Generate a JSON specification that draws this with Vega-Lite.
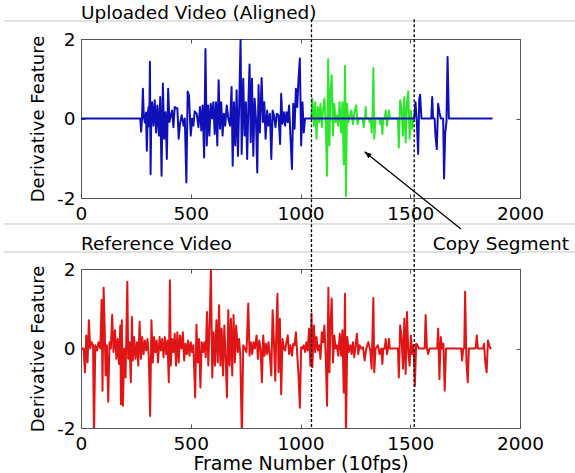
{
"$schema": "https://vega.github.io/schema/vega-lite/v6.json",
"padding": {"left": 2, "top": 3, "right": 0, "bottom": 0},
"background": "white",
"spacing": 71,
"bounds": "flush",
"datasets": {
"uploaded": [{"f":0,"v":0},{"f":270,"v":0},{"f":274,"v":-0.33},{"f":278,"v":0},{"f":282,"v":0.75},{"f":286,"v":0.05},{"f":291,"v":-0.1},{"f":296,"v":0.15},{"f":300,"v":-0.81},{"f":304,"v":0.1},{"f":308,"v":0.29},{"f":311,"v":-0.2},{"f":314,"v":1.43},{"f":317,"v":-1.4},{"f":320,"v":-0.1},{"f":324,"v":0.41},{"f":330,"v":-0.18},{"f":336,"v":0.46},{"f":342,"v":-0.35},{"f":348,"v":0.33},{"f":355,"v":-0.43},{"f":361,"v":0.54},{"f":367,"v":-1.44},{"f":373,"v":0.88},{"f":379,"v":-0.51},{"f":385,"v":0.16},{"f":391,"v":-1.02},{"f":397,"v":0.75},{"f":403,"v":-0.09},{"f":409,"v":0.08},{"f":415,"v":0.2},{"f":421,"v":-0.22},{"f":427,"v":0.29},{"f":433,"v":0.26},{"f":439,"v":0.26},{"f":445,"v":-0.51},{"f":451,"v":-0.13},{"f":459,"v":0.08},{"f":467,"v":-0.18},{"f":473,"v":0},{"f":480,"v":-1.61},{"f":486,"v":0.68},{"f":492,"v":0.58},{"f":500,"v":-0.43},{"f":506,"v":0},{"f":512,"v":-0.18},{"f":518,"v":0.18},{"f":527,"v":0.12},{"f":535,"v":-0.22},{"f":542,"v":0.29},{"f":548,"v":-0.3},{"f":554,"v":0.33},{"f":561,"v":-0.98},{"f":567,"v":1.75},{"f":573,"v":-0.68},{"f":579,"v":0.33},{"f":585,"v":-0.43},{"f":591,"v":0.37},{"f":597,"v":0},{"f":603,"v":0.41},{"f":609,"v":-0.39},{"f":615,"v":0.41},{"f":621,"v":-0.68},{"f":627,"v":0.96},{"f":633,"v":-0.26},{"f":639,"v":0.41},{"f":645,"v":-0.43},{"f":651,"v":0.12},{"f":657,"v":-0.18},{"f":664,"v":0.33},{"f":671,"v":0},{"f":679,"v":-0.18},{"f":686,"v":0.79},{"f":691,"v":-1.19},{"f":697,"v":0.41},{"f":703,"v":-0.68},{"f":709,"v":0.71},{"f":715,"v":-0.94},{"f":721,"v":0.41},{"f":727,"v":2.0},{"f":732,"v":-0.89},{"f":739,"v":1.0},{"f":745,"v":-0.43},{"f":751,"v":0.41},{"f":757,"v":-1.02},{"f":764,"v":0.67},{"f":768,"v":1.36},{"f":773,"v":-0.6},{"f":779,"v":1.0},{"f":785,"v":-0.94},{"f":791,"v":0.5},{"f":797,"v":0},{"f":803,"v":-1.36},{"f":809,"v":0.84},{"f":815,"v":-0.35},{"f":823,"v":1.02},{"f":829,"v":-0.09},{"f":835,"v":0.41},{"f":841,"v":-0.51},{"f":848,"v":0.2},{"f":854,"v":-0.18},{"f":861,"v":0.12},{"f":867,"v":-1.02},{"f":873,"v":0.2},{"f":879,"v":0.08},{"f":886,"v":-0.22},{"f":892,"v":0.12},{"f":900,"v":0.08},{"f":907,"v":-0.64},{"f":912,"v":0.62},{"f":918,"v":-0.13},{"f":924,"v":0.16},{"f":930,"v":-0.18},{"f":936,"v":0.16},{"f":942,"v":-0.09},{"f":948,"v":0.33},{"f":954,"v":-0.43},{"f":961,"v":-1.27},{"f":967,"v":0.37},{"f":973,"v":-0.26},{"f":979,"v":0.75},{"f":985,"v":0.29},{"f":991,"v":1.0},{"f":997,"v":1.51},{"f":1003,"v":-0.68},{"f":1009,"v":0.41},{"f":1015,"v":-0.35},{"f":1021,"v":0},{"f":1050,"v":0},{"f":1518,"v":0},{"f":1524,"v":0.41},{"f":1530,"v":-0.09},{"f":1536,"v":-0.89},{"f":1541,"v":0.5},{"f":1545,"v":0.6},{"f":1551,"v":0},{"f":1596,"v":0},{"f":1600,"v":0.54},{"f":1604,"v":0},{"f":1611,"v":0},{"f":1615,"v":-0.43},{"f":1621,"v":-0.77},{"f":1627,"v":0.37},{"f":1633,"v":0.16},{"f":1639,"v":0},{"f":1650,"v":0},{"f":1654,"v":-1.51},{"f":1659,"v":-0.39},{"f":1665,"v":-0.08},{"f":1670,"v":1.55},{"f":1676,"v":0},{"f":1875,"v":0}],
"copy": [{"f":1050,"v":0},{"f":1054,"v":0.5},{"f":1061,"v":-0.18},{"f":1067,"v":0.41},{"f":1073,"v":-0.51},{"f":1079,"v":0.29},{"f":1085,"v":-0.09},{"f":1091,"v":0.37},{"f":1097,"v":-0.22},{"f":1103,"v":0.24},{"f":1109,"v":0.5},{"f":1115,"v":-0.14},{"f":1121,"v":-1.44},{"f":1126,"v":1.49},{"f":1132,"v":-0.68},{"f":1136,"v":0.58},{"f":1142,"v":1.09},{"f":1148,"v":-0.43},{"f":1154,"v":0.37},{"f":1160,"v":-0.09},{"f":1166,"v":0.08},{"f":1172,"v":-0.18},{"f":1178,"v":0.41},{"f":1185,"v":-0.35},{"f":1191,"v":0.41},{"f":1197,"v":-1.15},{"f":1203,"v":1.32},{"f":1207,"v":-1.95},{"f":1212,"v":0.37},{"f":1218,"v":-0.09},{"f":1224,"v":0.03},{"f":1232,"v":0.2},{"f":1239,"v":-0.14},{"f":1247,"v":0.2},{"f":1254,"v":0.33},{"f":1260,"v":-0.14},{"f":1266,"v":0},{"f":1283,"v":0},{"f":1288,"v":-0.22},{"f":1292,"v":0},{"f":1294,"v":0},{"f":1297,"v":0.29},{"f":1300,"v":0},{"f":1312,"v":0},{"f":1315,"v":-0.09},{"f":1320,"v":0},{"f":1324,"v":-0.35},{"f":1328,"v":0},{"f":1332,"v":1.27},{"f":1336,"v":-0.51},{"f":1342,"v":0},{"f":1360,"v":0},{"f":1364,"v":-0.14},{"f":1368,"v":0},{"f":1373,"v":-0.39},{"f":1377,"v":0},{"f":1384,"v":0},{"f":1388,"v":0.2},{"f":1394,"v":-0.18},{"f":1399,"v":0},{"f":1403,"v":0.2},{"f":1407,"v":0},{"f":1444,"v":0},{"f":1448,"v":-0.73},{"f":1454,"v":0.46},{"f":1460,"v":0.29},{"f":1467,"v":-0.43},{"f":1473,"v":0.54},{"f":1479,"v":-0.6},{"f":1485,"v":0.41},{"f":1491,"v":0.68},{"f":1497,"v":-0.51},{"f":1503,"v":0.2},{"f":1509,"v":-0.26},{"f":1513,"v":0},{"f":1518,"v":0}],
"reference": [{"f":0,"v":0},{"f":12,"v":0},{"f":18,"v":-0.6},{"f":24,"v":0.33},{"f":30,"v":-0.35},{"f":36,"v":0.71},{"f":42,"v":0},{"f":48,"v":0.16},{"f":55,"v":0.08},{"f":59,"v":-2.3},{"f":65,"v":0.08},{"f":73,"v":-0.05},{"f":80,"v":0.16},{"f":88,"v":0},{"f":94,"v":1.22},{"f":98,"v":-1.06},{"f":103,"v":1.53},{"f":108,"v":0.5},{"f":112,"v":-0.68},{"f":118,"v":0.08},{"f":124,"v":-1.34},{"f":130,"v":0.16},{"f":136,"v":0},{"f":142,"v":0.85},{"f":148,"v":-0.09},{"f":155,"v":0.46},{"f":161,"v":-0.26},{"f":167,"v":0.24},{"f":173,"v":-0.39},{"f":179,"v":0.58},{"f":182,"v":-1.4},{"f":186,"v":0.71},{"f":191,"v":-1.44},{"f":197,"v":0},{"f":203,"v":-0.73},{"f":211,"v":1.68},{"f":215,"v":-0.26},{"f":221,"v":0.16},{"f":227,"v":-0.85},{"f":232,"v":0.79},{"f":236,"v":-0.3},{"f":242,"v":0.29},{"f":248,"v":-0.26},{"f":255,"v":0.16},{"f":261,"v":-0.43},{"f":267,"v":0.67},{"f":273,"v":-0.26},{"f":279,"v":0.29},{"f":285,"v":-0.14},{"f":291,"v":0.2},{"f":297,"v":-0.05},{"f":303,"v":0.24},{"f":309,"v":-0.22},{"f":315,"v":-1.7},{"f":321,"v":0.71},{"f":327,"v":-0.35},{"f":333,"v":0.29},{"f":339,"v":-0.09},{"f":345,"v":0.2},{"f":351,"v":-0.35},{"f":358,"v":0.29},{"f":364,"v":-0.05},{"f":370,"v":0.24},{"f":376,"v":-0.22},{"f":382,"v":0.29},{"f":388,"v":-0.14},{"f":394,"v":0.2},{"f":400,"v":-0.85},{"f":405,"v":1.72},{"f":409,"v":-0.43},{"f":415,"v":0.24},{"f":421,"v":-0.09},{"f":427,"v":0.37},{"f":433,"v":-0.43},{"f":439,"v":0.41},{"f":445,"v":-0.35},{"f":451,"v":0.33},{"f":458,"v":0},{"f":464,"v":0.41},{"f":470,"v":-0.3},{"f":476,"v":0.12},{"f":482,"v":-0.14},{"f":488,"v":0.2},{"f":494,"v":-0.18},{"f":500,"v":0.16},{"f":506,"v":-0.09},{"f":512,"v":0.08},{"f":520,"v":-1.23},{"f":526,"v":0.6},{"f":532,"v":-0.35},{"f":538,"v":0.24},{"f":544,"v":-0.98},{"f":550,"v":0.16},{"f":556,"v":-0.09},{"f":562,"v":0.16},{"f":568,"v":-0.22},{"f":574,"v":0.92},{"f":580,"v":-0.43},{"f":586,"v":0.62},{"f":592,"v":2.0},{"f":598,"v":-0.73},{"f":604,"v":0.41},{"f":610,"v":-0.43},{"f":617,"v":0.71},{"f":623,"v":-0.35},{"f":629,"v":1.09},{"f":635,"v":-0.43},{"f":641,"v":0.5},{"f":647,"v":-0.68},{"f":653,"v":0.58},{"f":659,"v":-0.26},{"f":665,"v":-1.23},{"f":671,"v":0.96},{"f":677,"v":-0.43},{"f":683,"v":0.75},{"f":689,"v":-0.68},{"f":695,"v":0.84},{"f":701,"v":-0.35},{"f":707,"v":0.58},{"f":714,"v":-0.09},{"f":720,"v":0.24},{"f":726,"v":-0.18},{"f":733,"v":-2.3},{"f":739,"v":0.08},{"f":747,"v":0},{"f":754,"v":-0.09},{"f":762,"v":1.13},{"f":768,"v":-0.18},{"f":774,"v":0.16},{"f":780,"v":-0.14},{"f":786,"v":0.16},{"f":792,"v":0},{"f":800,"v":0.33},{"f":806,"v":-0.26},{"f":812,"v":0.2},{"f":818,"v":0},{"f":824,"v":-0.85},{"f":830,"v":0.33},{"f":836,"v":-0.18},{"f":842,"v":0.12},{"f":848,"v":-0.14},{"f":854,"v":0.16},{"f":860,"v":-0.14},{"f":867,"v":-0.68},{"f":873,"v":0.96},{"f":879,"v":0.16},{"f":885,"v":-0.81},{"f":891,"v":0.71},{"f":895,"v":1.38},{"f":900,"v":-0.6},{"f":906,"v":0.75},{"f":912,"v":-1.15},{"f":918,"v":0.24},{"f":924,"v":0},{"f":930,"v":-0.05},{"f":936,"v":0.16},{"f":942,"v":0.33},{"f":948,"v":-0.14},{"f":954,"v":0.08},{"f":961,"v":-0.18},{"f":967,"v":0.12},{"f":973,"v":0.08},{"f":979,"v":0.41},{"f":985,"v":-0.14},{"f":991,"v":-0.68},{"f":997,"v":-1.49},{"f":1003,"v":0.03},{"f":1009,"v":0},{"f":1015,"v":0.08},{"f":1021,"v":-0.09},{"f":1027,"v":0.16},{"f":1033,"v":-0.05},{"f":1039,"v":0.5},{"f":1045,"v":-0.43},{"f":1050,"v":0.88},{"f":1054,"v":-0.47},{"f":1061,"v":0.58},{"f":1067,"v":-0.09},{"f":1073,"v":0.29},{"f":1079,"v":-0.05},{"f":1085,"v":0.08},{"f":1091,"v":-0.26},{"f":1097,"v":0.41},{"f":1103,"v":0.16},{"f":1109,"v":0.58},{"f":1115,"v":-0.22},{"f":1121,"v":-1.44},{"f":1127,"v":1.53},{"f":1132,"v":-0.6},{"f":1136,"v":0.46},{"f":1142,"v":1.26},{"f":1148,"v":-0.35},{"f":1154,"v":0.33},{"f":1160,"v":0},{"f":1166,"v":0.08},{"f":1172,"v":-0.18},{"f":1179,"v":0.37},{"f":1185,"v":-0.18},{"f":1191,"v":0.46},{"f":1197,"v":-1.11},{"f":1203,"v":1.38},{"f":1207,"v":-2.3},{"f":1213,"v":0.29},{"f":1220,"v":-0.09},{"f":1227,"v":0.08},{"f":1233,"v":-0.14},{"f":1239,"v":0.16},{"f":1245,"v":-0.22},{"f":1251,"v":0.08},{"f":1257,"v":0.37},{"f":1263,"v":-0.14},{"f":1269,"v":0.08},{"f":1277,"v":0},{"f":1285,"v":0.03},{"f":1292,"v":-0.3},{"f":1300,"v":0},{"f":1309,"v":0.16},{"f":1318,"v":-0.05},{"f":1324,"v":-0.51},{"f":1332,"v":1.27},{"f":1336,"v":-0.6},{"f":1342,"v":0},{"f":1353,"v":0.08},{"f":1360,"v":-0.14},{"f":1368,"v":0},{"f":1373,"v":-0.39},{"f":1377,"v":0},{"f":1384,"v":0},{"f":1388,"v":0.24},{"f":1394,"v":-0.14},{"f":1399,"v":0},{"f":1403,"v":0.24},{"f":1407,"v":0},{"f":1444,"v":0},{"f":1448,"v":-0.73},{"f":1454,"v":0.58},{"f":1460,"v":0.33},{"f":1467,"v":-0.51},{"f":1473,"v":0.75},{"f":1479,"v":-0.64},{"f":1485,"v":0.92},{"f":1491,"v":-0.09},{"f":1497,"v":-0.43},{"f":1503,"v":0.33},{"f":1509,"v":-0.14},{"f":1515,"v":0.08},{"f":1521,"v":-0.94},{"f":1527,"v":0.12},{"f":1533,"v":0.08},{"f":1539,"v":0},{"f":1566,"v":0},{"f":1570,"v":0.84},{"f":1576,"v":0},{"f":1582,"v":-0.14},{"f":1588,"v":0},{"f":1623,"v":0},{"f":1627,"v":0.5},{"f":1633,"v":-0.77},{"f":1639,"v":0.29},{"f":1645,"v":0},{"f":1651,"v":0.12},{"f":1657,"v":-1.06},{"f":1663,"v":0},{"f":1732,"v":0},{"f":1736,"v":-0.3},{"f":1742,"v":0},{"f":1746,"v":0},{"f":1750,"v":1.43},{"f":1756,"v":-0.35},{"f":1762,"v":-0.85},{"f":1767,"v":0},{"f":1798,"v":0},{"f":1803,"v":0.33},{"f":1808,"v":0},{"f":1832,"v":0},{"f":1836,"v":0.12},{"f":1842,"v":-0.35},{"f":1848,"v":-0.6},{"f":1854,"v":0.2},{"f":1860,"v":0.08},{"f":1865,"v":0},{"f":1870,"v":0}],
"gridTop": [{"f":-351,"f2":2269,"v":2.453},{"f":-351,"f2":2269,"v":-2.654}],
"gridBottom": [{"f":-351,"f2":2269,"v":2.428}],
"dashTop": [{"f":1050,"v":2.5,"v2":-2.91},{"f":1518,"v":2.5,"v2":-2.91}],
"dashBottom": [{"f":1050,"v":2.88,"v2":-2},{"f":1518,"v":2.88,"v2":-2}],
"arrow": [{"f":1731,"v":-2.78,"f2":1292,"v2":-0.835}],
"arrowHead": [{"f":1292,"v":-0.835}],
"copyLabel": [{"f":1603,"v":2.48,"label":"Copy Segment"}],
"origin": [{"f":0,"v":0}]
},
"vconcat": [
{
"title": {"text": "Uploaded Video (Aligned)", "offset": -4.5},
"width": 439, "height": 159,
"resolve": {"axis": {"x": "independent", "y": "independent"}},
"layer": [
{"data": {"name": "gridTop"}, "mark": {"type": "rule", "color": "#c4c4c4", "strokeWidth": 1, "clip": false},
 "encoding": {"x": {"field": "f", "type": "quantitative", "scale": {"domain": [0, 2000], "nice": false, "zero": false}, "axis": null}, "x2": {"field": "f2"}, "y": {"field": "v", "type": "quantitative", "scale": {"domain": [-2, 2], "nice": false, "zero": false}, "axis": null}}},
{"data": {"name": "copy"}, "mark": {"type": "line", "color": "#2ee62e", "strokeWidth": 2, "strokeJoin": "round", "clip": true},
 "encoding": {"x": {"field": "f", "type": "quantitative", "scale": {"domain": [0, 2000], "nice": false, "zero": false}, "axis": null}, "y": {"field": "v", "type": "quantitative", "scale": {"domain": [-2, 2], "nice": false, "zero": false}, "axis": null}}},
{"data": {"name": "uploaded"}, "mark": {"type": "line", "color": "#1010b8", "strokeWidth": 2, "strokeJoin": "round", "clip": true},
 "encoding": {"x": {"field": "f", "type": "quantitative", "scale": {"domain": [0, 2000], "nice": false, "zero": false}, "axis": {"values": [0, 500, 1000, 1500, 2000], "title": null, "labelExpr": "'' + datum.value"}}, "y": {"field": "v", "type": "quantitative", "scale": {"domain": [-2, 2], "nice": false, "zero": false}, "axis": {"values": [-2, 0, 2], "title": "Derivative Feature", "titlePadding": 9, "labelExpr": "'' + datum.value"}}}},
{"data": {"name": "dashTop"}, "mark": {"type": "rule", "color": "#000000", "strokeWidth": 1.3, "strokeDash": [3, 2], "clip": false},
 "encoding": {"x": {"field": "f", "type": "quantitative", "scale": {"domain": [0, 2000], "nice": false, "zero": false}, "axis": null}, "y": {"field": "v", "type": "quantitative", "scale": {"domain": [-2, 2], "nice": false, "zero": false}, "axis": null}, "y2": {"field": "v2"}}},
{"data": {"name": "arrow"}, "mark": {"type": "rule", "color": "#000000", "strokeWidth": 1.3, "clip": false},
 "encoding": {"x": {"field": "f", "type": "quantitative", "scale": {"domain": [0, 2000], "nice": false, "zero": false}, "axis": null}, "x2": {"field": "f2"}, "y": {"field": "v", "type": "quantitative", "scale": {"domain": [-2, 2], "nice": false, "zero": false}, "axis": null}, "y2": {"field": "v2"}}},
{"data": {"name": "arrowHead"}, "mark": {"type": "point", "shape": "M0,0L-0.38,1L0.38,1Z", "size": 196, "angle": 309, "filled": true, "color": "#000000", "opacity": 1, "clip": false},
 "encoding": {"x": {"field": "f", "type": "quantitative", "scale": {"domain": [0, 2000], "nice": false, "zero": false}, "axis": null}, "y": {"field": "v", "type": "quantitative", "scale": {"domain": [-2, 2], "nice": false, "zero": false}, "axis": null}}},
{"data": {"name": "origin"}, "mark": {"type": "point", "opacity": 0},
 "encoding": {"x": {"field": "f", "type": "quantitative", "scale": {"domain": [0, 2000], "nice": false, "zero": false}, "axis": {"orient": "top", "values": [0, 500, 1000, 1500, 2000], "labels": false, "title": null}}, "y": {"field": "v", "type": "quantitative", "scale": {"domain": [-2, 2], "nice": false, "zero": false}, "axis": {"orient": "right", "values": [-2, 0, 2], "labels": false, "title": null}}}}
]
},
{
"title": {"text": "Reference Video", "offset": -20.5},
"width": 439, "height": 159,
"resolve": {"axis": {"x": "independent", "y": "independent"}},
"layer": [
{"data": {"name": "gridBottom"}, "mark": {"type": "rule", "color": "#c4c4c4", "strokeWidth": 1, "clip": false},
 "encoding": {"x": {"field": "f", "type": "quantitative", "scale": {"domain": [0, 2000], "nice": false, "zero": false}, "axis": null}, "x2": {"field": "f2"}, "y": {"field": "v", "type": "quantitative", "scale": {"domain": [-2, 2], "nice": false, "zero": false}, "axis": null}}},
{"data": {"name": "reference"}, "mark": {"type": "line", "color": "#e01515", "strokeWidth": 2, "strokeJoin": "round", "clip": true},
 "encoding": {"x": {"field": "f", "type": "quantitative", "scale": {"domain": [0, 2000], "nice": false, "zero": false}, "axis": {"values": [0, 500, 1000, 1500, 2000], "title": "Frame Number (10fps)", "titlePadding": 1.3, "titleFontSize": 19, "labelExpr": "'' + datum.value"}}, "y": {"field": "v", "type": "quantitative", "scale": {"domain": [-2, 2], "nice": false, "zero": false}, "axis": {"values": [-2, 0, 2], "title": "Derivative Feature", "titlePadding": 9, "labelExpr": "'' + datum.value"}}}},
{"data": {"name": "dashBottom"}, "mark": {"type": "rule", "color": "#000000", "strokeWidth": 1.3, "strokeDash": [3, 2], "clip": false},
 "encoding": {"x": {"field": "f", "type": "quantitative", "scale": {"domain": [0, 2000], "nice": false, "zero": false}, "axis": null}, "y": {"field": "v", "type": "quantitative", "scale": {"domain": [-2, 2], "nice": false, "zero": false}, "axis": null}, "y2": {"field": "v2"}}},
{"data": {"name": "copyLabel"}, "mark": {"type": "text", "align": "left", "baseline": "alphabetic", "fontSize": 18.5, "color": "#000000", "clip": false},
 "encoding": {"x": {"field": "f", "type": "quantitative", "scale": {"domain": [0, 2000], "nice": false, "zero": false}, "axis": null}, "y": {"field": "v", "type": "quantitative", "scale": {"domain": [-2, 2], "nice": false, "zero": false}, "axis": null}, "text": {"field": "label"}}},
{"data": {"name": "origin"}, "mark": {"type": "point", "opacity": 0},
 "encoding": {"x": {"field": "f", "type": "quantitative", "scale": {"domain": [0, 2000], "nice": false, "zero": false}, "axis": {"orient": "top", "values": [0, 500, 1000, 1500, 2000], "labels": false, "title": null}}, "y": {"field": "v", "type": "quantitative", "scale": {"domain": [-2, 2], "nice": false, "zero": false}, "axis": {"orient": "right", "values": [-2, 0, 2], "labels": false, "title": null}}}}
]
}
],
"config": {
"font": "DejaVu Sans",
"view": {"stroke": "#555555", "strokeWidth": 1},
"axis": {"grid": false, "domain": false, "tickColor": "#555555", "tickSize": -4, "labelFontSize": 18.5, "labelColor": "#000000", "labelFlush": false, "labelOverlap": false, "labelPadding": 10.6, "titleFontSize": 18, "titleFontWeight": "normal", "titleColor": "#000000"},
"axisY": {"labelPadding": 10},
"title": {"fontSize": 18.5, "fontWeight": "normal", "color": "#000000", "anchor": "start", "frame": "group", "offset": 16}
}
}
